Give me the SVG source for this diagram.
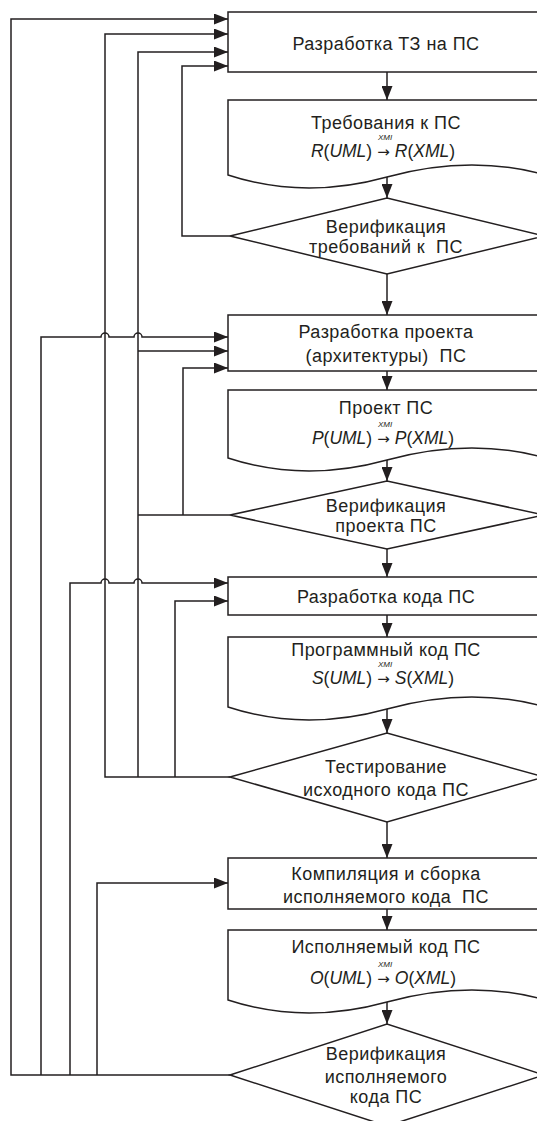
<svg xmlns="http://www.w3.org/2000/svg" width="537" height="1121" viewBox="0 0 537 1121">
<style>
.s{fill:#fff;stroke:#231f20;stroke-width:1.5}
.c{fill:none;stroke:#231f20;stroke-width:1.5}
.t{font-family:"Liberation Sans",Arial,sans-serif;font-size:18px;letter-spacing:0.45px;fill:#231f20;text-anchor:middle}
.f{font-family:"Liberation Sans",Arial,sans-serif;font-size:17.5px;fill:#231f20;text-anchor:middle}
.x{font-family:"Liberation Sans",Arial,sans-serif;font-size:8px;font-style:italic;fill:#231f20;text-anchor:middle}
.i{font-style:italic}
.a{font-family:"DejaVu Sans",sans-serif;font-size:15px}
</style>
<defs>
<marker id="ah" markerWidth="14" markerHeight="11" refX="14" refY="5.5" orient="auto" markerUnits="userSpaceOnUse">
<path d="M0,0 L14,5.5 L0,11 z" fill="#231f20"/>
</marker>
</defs>
<rect width="537" height="1121" fill="#fff"/>
<g id="connectors">
<path class="c" d="M230,1075 H11 V19 H228" marker-end="url(#ah)"/>
<path class="c" d="M41,1075 V337 H101 a4,4 0 0 1 8,0 H134 a4,4 0 0 1 8,0 H228" marker-end="url(#ah)"/>
<path class="c" d="M70,1075 V583 H101 a4,4 0 0 1 8,0 H134 a4,4 0 0 1 8,0 H228" marker-end="url(#ah)"/>
<path class="c" d="M97,1075 V883 H228" marker-end="url(#ah)"/>
<path class="c" d="M230,777 H105 V34 H228" marker-end="url(#ah)"/>
<path class="c" d="M138,777 V52 H228" marker-end="url(#ah)"/>
<path class="c" d="M138,351 H228" marker-end="url(#ah)"/>
<path class="c" d="M230,515 H138"/>
<path class="c" d="M230,236 H182 V66 H228" marker-end="url(#ah)"/>
<path class="c" d="M183,515 V368 H228" marker-end="url(#ah)"/>
<path class="c" d="M175,777 V601 H228" marker-end="url(#ah)"/>
<path class="c" d="M387,72 V100" marker-end="url(#ah)"/>
<path class="c" d="M387,177 V198" marker-end="url(#ah)"/>
<path class="c" d="M387,274 V315" marker-end="url(#ah)"/>
<path class="c" d="M387,371 V390" marker-end="url(#ah)"/>
<path class="c" d="M387,460 V481" marker-end="url(#ah)"/>
<path class="c" d="M387,549 V577" marker-end="url(#ah)"/>
<path class="c" d="M387,615 V637" marker-end="url(#ah)"/>
<path class="c" d="M387,709 V733" marker-end="url(#ah)"/>
<path class="c" d="M387,822 V858" marker-end="url(#ah)"/>
<path class="c" d="M387,909 V930" marker-end="url(#ah)"/>
<path class="c" d="M387,1002 V1024" marker-end="url(#ah)"/>
</g>
<g id="n1">
<rect class="s" x="228" y="12" width="318" height="60"/>
<text class="t" x="386" y="50">Разработка ТЗ на ПС</text>
</g>
<g id="n2">
<path class="s" d="M228,100 V175 Q304,200 387,177 T546,175 V100 Z"/>
<text class="t" x="386" y="129">Требования к ПС</text>
<text class="x" x="385" y="140">XMI</text>
<text class="f" x="383" y="157"><tspan class="i">R</tspan>(<tspan class="i">UML</tspan>)<tspan class="a" dx="5">→</tspan><tspan class="i" dx="5">R</tspan>(<tspan class="i">XML</tspan>)</text>
</g>
<g id="n3">
<polygon class="s" points="230,236 387,198 544,236 387,274"/>
<text class="t" x="386" y="233">Верификация</text>
<text class="t" x="386" y="253" xml:space="preserve">требований к  ПС</text>
</g>
<g id="n4">
<rect class="s" x="228" y="315" width="318" height="56"/>
<text class="t" x="386" y="338">Разработка проекта</text>
<text class="t" x="386" y="362" xml:space="preserve">(архитектуры)  ПС</text>
</g>
<g id="n5">
<path class="s" d="M228,390 V458 Q304,483 387,460 T546,458 V390 Z"/>
<text class="t" x="386" y="414">Проект ПС</text>
<text class="x" x="385" y="427">XMI</text>
<text class="f" x="383" y="444"><tspan class="i">P</tspan>(<tspan class="i">UML</tspan>)<tspan class="a" dx="5">→</tspan><tspan class="i" dx="5">P</tspan>(<tspan class="i">XML</tspan>)</text>
</g>
<g id="n6">
<polygon class="s" points="230,515 387,481 544,515 387,549"/>
<text class="t" x="386" y="512">Верификация</text>
<text class="t" x="386" y="532">проекта ПС</text>
</g>
<g id="n7">
<rect class="s" x="228" y="577" width="318" height="38"/>
<text class="t" x="386" y="603">Разработка кода ПС</text>
</g>
<g id="n8">
<path class="s" d="M228,637 V707 Q304,732 387,709 T546,707 V637 Z"/>
<text class="t" x="386" y="656">Программный код ПС</text>
<text class="x" x="385" y="667">XMI</text>
<text class="f" x="383" y="684"><tspan class="i">S</tspan>(<tspan class="i">UML</tspan>)<tspan class="a" dx="5">→</tspan><tspan class="i" dx="5">S</tspan>(<tspan class="i">XML</tspan>)</text>
</g>
<g id="n9">
<polygon class="s" points="230,777 387,733 544,777 387,822"/>
<text class="t" x="386" y="773">Тестирование</text>
<text class="t" x="386" y="796">исходного кода ПС</text>
</g>
<g id="n10">
<rect class="s" x="228" y="858" width="318" height="51"/>
<text class="t" x="386" y="880">Компиляция и сборка</text>
<text class="t" x="386" y="903" xml:space="preserve">исполняемого кода  ПС</text>
</g>
<g id="n11">
<path class="s" d="M228,930 V1000 Q304,1025 387,1002 T546,1000 V930 Z"/>
<text class="t" x="386" y="953">Исполняемый код ПС</text>
<text class="x" x="385" y="967">XMI</text>
<text class="f" x="383" y="984"><tspan class="i">O</tspan>(<tspan class="i">UML</tspan>)<tspan class="a" dx="5">→</tspan><tspan class="i" dx="5">O</tspan>(<tspan class="i">XML</tspan>)</text>
</g>
<g id="n12">
<polygon class="s" points="230,1075 387,1024 544,1075 387,1126"/>
<text class="t" x="386" y="1060">Верификация</text>
<text class="t" x="386" y="1083">исполняемого</text>
<text class="t" x="386" y="1103">кода ПС</text>
</g>
</svg>
